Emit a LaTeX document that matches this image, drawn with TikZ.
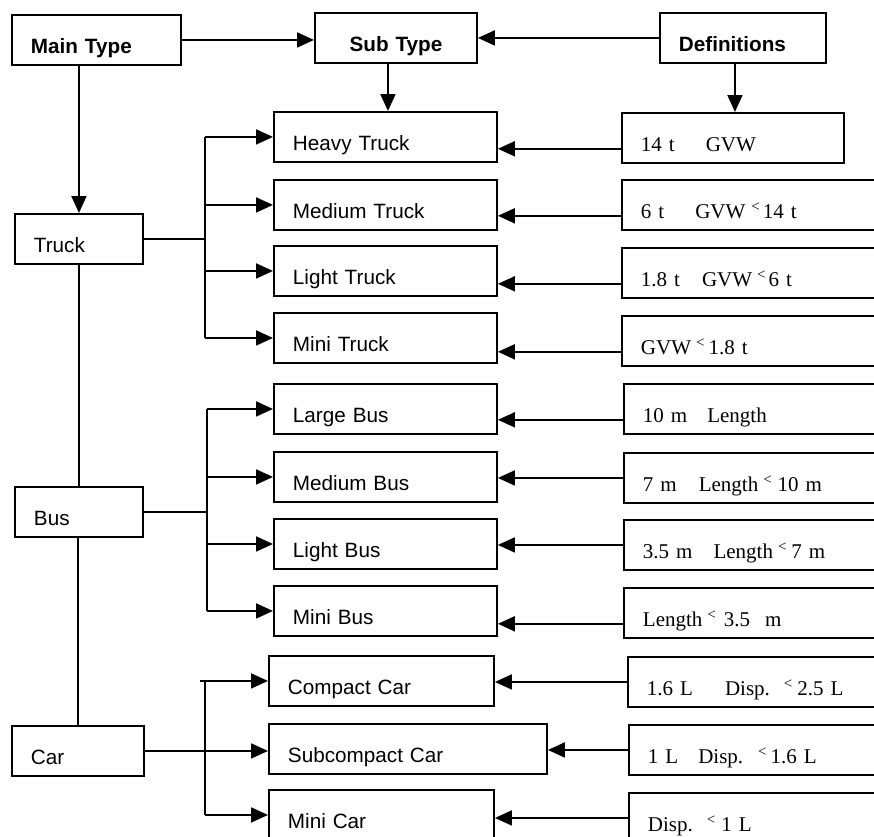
\documentclass[tikz,border=0pt]{standalone}
\usepackage{fontspec}
\setmainfont{Liberation Sans}
\newfontfamily\deffont{Liberation Serif}
\usetikzlibrary{arrows.meta}
\usetikzlibrary{positioning}
\tikzset{box/.style = {draw, rectangle, anchor=north west,
                       inner xsep=19pt, inner ysep=0pt, align=left,
                       text height=38.5pt, text depth=11.5pt,
                       font=\fontsize{20.7}{24}\selectfont}}
\tikzset{defbox/.style = {box, text width=241pt,
                          font=\deffont\fontsize{21}{24}\selectfont}}
\tikzset{arr/.style = {-{Triangle[length=17pt,width=15pt]}}}
\newcommand{\lessmark}{\raisebox{7pt}{\fontsize{15}{15}\selectfont<}}

\begin{document}
\begin{tikzpicture}[x=1pt, y=-1pt, line width=1.9pt]
    \useasboundingbox (0,0) rectangle (874,836);

    % header row
    \node [box, text width=131pt] (main) at (11,14) {\textbf{Main Type}};
    \node [box, text width=124pt, align=center] (sub) at (314,12) {\textbf{Sub Type}};
    \node [box, text width=128pt] (defs) at (659,12) {\textbf{Definitions}};

    % main types
    \node [box, text width=90pt] (truck) at (14,213) {Truck};
    \node [box, text width=90pt] (bus) at (14,486) {Bus};
    \node [box, text width=94pt] (car) at (11,725) {Car};

    % sub types
    \node [box, text width=185pt] (heavy) at (273,111) {Heavy Truck};
    \node [box, text width=185pt] (medium) at (273,179) {Medium Truck};
    \node [box, text width=185pt] (lighttruck) at (273,245) {Light Truck};
    \node [box, text width=185pt] (minitruck) at (273,312) {Mini Truck};
    \node [box, text width=185pt] (largebus) at (273,383) {Large Bus};
    \node [box, text width=185pt] (mediumbus) at (273,451) {Medium Bus};
    \node [box, text width=185pt] (lightbus) at (273,518) {Light Bus};
    \node [box, text width=185pt] (minibus) at (273,585) {Mini Bus};
    \node [box, text width=187pt] (compact) at (268,655) {Compact Car};
    \node [box, text width=240pt] (subcompact) at (268,723) {Subcompact Car};
    \node [box, text width=187pt] (minicar) at (268,789) {Mini Car};

    % definitions
    \node [defbox, text width=184pt] (hdef) at (621,112) {14 t\hspace{31pt}GVW};
    \node [defbox] (mdef) at (621,179) {6 t\hspace{31pt}GVW\hspace{6pt}\lessmark\hspace{3pt}14 t};
    \node [defbox] (ldef) at (621,247) {1.8 t\hspace{22pt}GVW\hspace{5pt}\lessmark\hspace{3pt}6 t};
    \node [defbox] (mtdef) at (621,315) {GVW\hspace{5pt}\lessmark\hspace{4pt}1.8 t};
    \node [defbox] (lbdef) at (623,383) {10 m\hspace{20pt}Length};
    \node [defbox] (mbdef) at (623,452) {7 m\hspace{22pt}Length\hspace{5pt}\lessmark\hspace{6pt}10 m};
    \node [defbox] (lidef) at (623,519) {3.5 m\hspace{21pt}Length\hspace{5pt}\lessmark\hspace{5pt}7 m};
    \node [defbox] (msdef) at (623,587) {Length\hspace{5pt}\lessmark\hspace{8pt}3.5\hspace{15pt}m};
    \node [defbox] (cdef) at (627,656) {1.6 L\hspace{32pt}Disp.\hspace{14pt}\lessmark\hspace{5pt}2.5 L};
    \node [defbox] (scdef) at (628,724) {1 L\hspace{20pt}Disp.\hspace{15pt}\lessmark\hspace{4pt}1.6 L};
    \node [defbox] (mcdef) at (628,792) {Disp.\hspace{14pt}\lessmark\hspace{6pt}1 L};

    % header arrows
    \draw [arr] (main.east) -- (main.east -| sub.west);
    \draw [arr] (defs.west) -- (defs.west -| sub.east);
    \draw [arr] ([xshift=-8pt]sub.south) -- ([xshift=-8pt]sub.south |- heavy.north);
    \draw [arr] ([xshift=-8pt]defs.south) -- ([xshift=-8pt]defs.south |- hdef.north);
    \draw [arr] (truck.north |- main.south) -- (truck.north);

    % main column
    \draw (truck.south) -- (bus.north);
    \draw (car.north |- bus.south) -- (car.north);

    % trunks
    \coordinate (tj) at (205,0);
    \coordinate (bj) at (207,0);
    \coordinate (cj) at (205,0);
    \coordinate (cs) at (200,0);

    \draw (truck.east) -- (truck.east -| tj);
    \draw (tj |- heavy.west) -- (tj |- minitruck.west);
    \foreach \s in {heavy, medium, lighttruck, minitruck} {
      \draw [arr] (tj |- \s.west) -- (\s.west);
    }

    \draw (bus.east) -- (bus.east -| bj);
    \draw (bj |- largebus.west) -- (bj |- minibus.west);
    \foreach \s in {largebus, mediumbus, lightbus, minibus} {
      \draw [arr] (bj |- \s.west) -- (\s.west);
    }

    \draw [arr] (car.east) -- (car.east -| subcompact.west);
    \draw (cj |- compact.west) -- (cj |- minicar.west);
    \draw [arr] (cs |- compact.west) -- (compact.west);
    \draw [arr] (cj |- minicar.west) -- (minicar.west);

    % definition arrows
    \foreach \d/\s/\a in {hdef/heavy/mid west, mdef/medium/mid west,
                          ldef/lighttruck/mid west, mtdef/minitruck/mid west,
                          lbdef/largebus/mid west, mbdef/mediumbus/west,
                          lidef/lightbus/west, msdef/minibus/mid west,
                          cdef/compact/west, scdef/subcompact/west,
                          mcdef/minicar/west} {
      \draw [arr] (\d.\a) -- (\d.\a -| \s.east);
    }
  \end{tikzpicture}
\end{document}
